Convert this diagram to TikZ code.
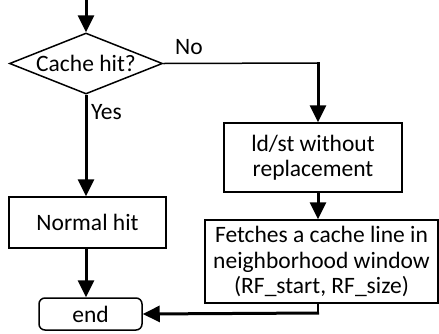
\documentclass[tikz,border=0pt]{standalone}
\usepackage{fontspec}
\setmainfont{Carlito}
\usetikzlibrary{shapes.geometric,arrows.meta,calc}
\begin{document}
\begin{tikzpicture}[x=1pt,y=-1pt,
  every node/.style={font=\fontsize{23.5}{25.5}\selectfont, align=center, inner sep=0pt},
  box/.style={draw, line width=1.5pt},
  conn/.style={line width=3pt, -{Triangle[width=16pt,length=17pt]}},
  thinconn/.style={line width=1.5pt}
]
\useasboundingbox (0,0) rectangle (439,333);
\coordinate (start) at (86,0);
\node[draw, line width=1.5pt, shape=diamond, aspect=2.5, minimum width=153pt, minimum height=61pt] (dec) at (86,63.5) {Cache hit?};
\node[box, minimum width=178pt, minimum height=69pt] (ld) at (313,157.5) {ld/st without\\replacement};
\node[box, minimum width=233pt, minimum height=83pt] (fetch) at (321.5,261.5) {Fetches a cache line in\\neighborhood window\\(RF\_start, RF\_size)};
\node[box, minimum width=157pt, minimum height=51pt] (hit) at (87.5,222.5) {Normal hit};
\node[box, rounded corners=6pt, minimum width=103pt, minimum height=32pt] (end) at (90.5,314) {end};
\coordinate (corner) at (318,63);
\coordinate (low) at (318,313);

\draw[conn] (start) -- (dec.north);
\draw[thinconn] (dec.east) -- (corner);
\draw[conn] ([yshift=0.75pt]corner) -- (corner |- ld.north);
\draw[conn] (ld.south -| corner) -- (corner |- fetch.north);
\draw[thinconn] (fetch.south -| low) -- (low);
\draw[conn] ([xshift=1pt]low) -- (end.east);
\draw[conn] (dec.south) -- (dec.south |- hit.north);
\draw[conn] (dec.south |- hit.south) -- (dec.south |- end.north);

\node[anchor=west] (no) at (175,47) {No};
\node[anchor=west] (yes) at (91,112) {Yes};
\end{tikzpicture}
\end{document}
